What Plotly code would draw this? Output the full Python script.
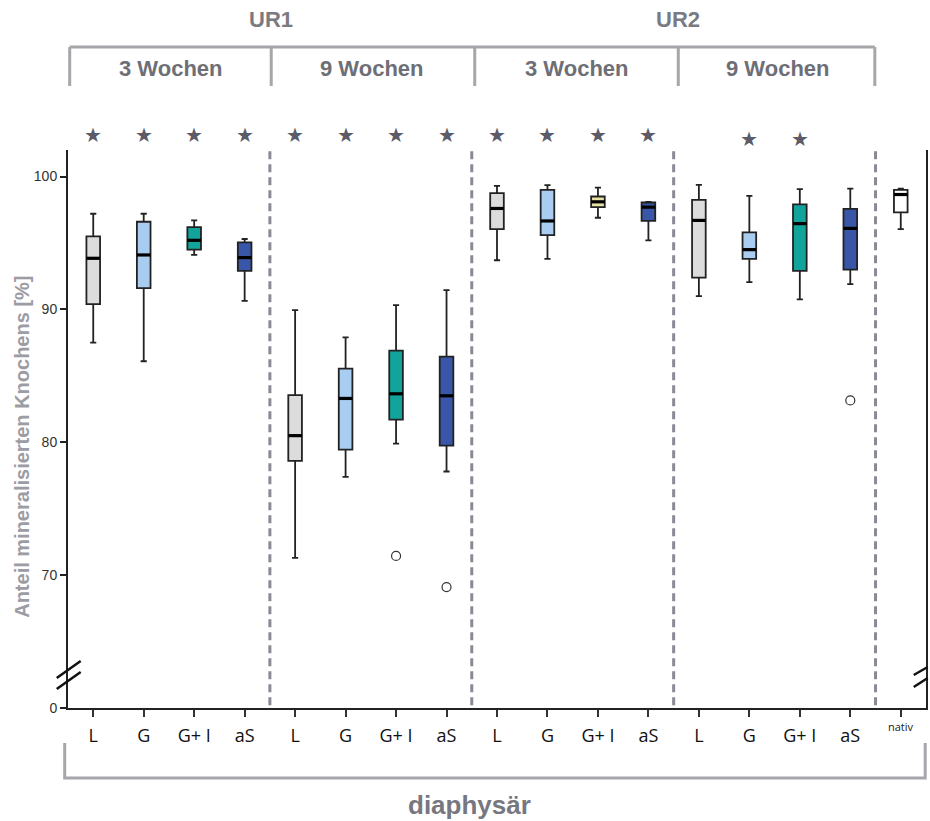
import plotly.graph_objects as go

# ---------------- data ----------------
tick_labels = ["L", "G", "G+ I", "aS", "L", "G", "G+ I", "aS",
               "L", "G", "G+ I", "aS", "L", "G", "G+ I", "aS", ""]
nativ_label = "nativ"

upper_whisker = [97.2, 97.2, 96.7, 95.3, 89.95, 87.9, 90.33, 91.45,
                 99.3, 99.35, 99.17, 98.1, 99.37, 98.55, 99.05, 99.1, 99.1]
q3_values = [95.5, 96.6, 96.2, 95.05, 83.55, 85.55, 86.9, 86.45,
             98.75, 99.0, 98.5, 98.05, 98.25, 95.8, 97.9, 97.57, 99.0]
median_values = [93.85, 94.1, 95.2, 93.9, 80.5, 83.3, 83.65, 83.5,
                 97.6, 96.66, 98.1, 97.7, 96.7, 94.5, 96.46, 96.1, 98.65]
q1_values = [90.4, 91.6, 94.5, 92.9, 78.6, 79.45, 81.7, 79.75,
             96.05, 95.6, 97.7, 96.66, 92.4, 93.8, 92.9, 93.0, 97.3]
lower_whisker = [87.5, 86.1, 94.1, 90.65, 71.3, 77.4, 79.9, 77.8,
                 93.7, 93.8, 96.9, 95.2, 91.0, 92.06, 90.76, 91.9, 96.05]
box_colors = ["#dcdcdc", "#a8cdf0", "#12a39b", "#3a56a8",
              "#dcdcdc", "#a8cdf0", "#12a39b", "#3a56a8",
              "#dcdcdc", "#a8cdf0", "#e6e2a6", "#3a56a8",
              "#dcdcdc", "#a8cdf0", "#12a39b", "#3a56a8", "#ffffff"]

outlier_x = [6, 7, 15]
outlier_y = [71.45, 69.1, 83.15]

star_x = [0, 1, 2, 3, 4, 5, 6, 7, 8, 9, 10, 11, 13, 14]
star_y = [103.15] * 12 + [102.85, 102.85]

separators = [3.5, 7.5, 11.5, 15.5]
y_tickvals = [60, 70, 80, 90, 100]
y_ticktext = ["0", "70", "80", "90", "100"]

period_labels = ["3 Wochen", "9 Wochen", "3 Wochen", "9 Wochen"]
group_labels = ["UR1", "UR2"]

Y_MIN, Y_MAX = 60, 102.0

# ---------------- figure ----------------
fig = go.Figure()
BOXW = 0.27
for i in range(len(median_values)):
    fig.add_trace(go.Box(
        x=[i], q1=[q1_values[i]], median=[median_values[i]], q3=[q3_values[i]],
        lowerfence=[lower_whisker[i]], upperfence=[upper_whisker[i]],
        width=BOXW, whiskerwidth=0.45, fillcolor=box_colors[i],
        line=dict(color="#222222", width=1.8), boxpoints=False,
        showlegend=False, hoverinfo="skip"))

# thick median lines
shapes = []
for i, m in enumerate(median_values):
    shapes.append(dict(type="line", xref="x", yref="y",
                       x0=i - BOXW / 2, x1=i + BOXW / 2, y0=m, y1=m,
                       line=dict(color="#000000", width=3.2)))

fig.add_trace(go.Scatter(x=outlier_x, y=outlier_y, mode="markers",
                         marker=dict(symbol="circle-open", size=9, color="#333333",
                                     line=dict(width=1.2)),
                         showlegend=False, hoverinfo="skip"))

# dashed separators
for s in separators:
    shapes.append(dict(type="line", xref="x", yref="paper", x0=s, x1=s,
                       y0=0.005, y1=1.003,
                       line=dict(color="#8a8a96", width=3, dash="8px,5px")))

# page-pixel helpers (plot area in page pixels)
L_PX, R_PX, T_PX, B_PX = 68.3, 928.3, 150, 708


def px(xp):
    return (xp - L_PX) / (R_PX - L_PX)


def py(yp):
    return (B_PX - yp) / (B_PX - T_PX)


def py_val(v):
    return (v - Y_MIN) / (Y_MAX - Y_MIN)


bracket_col = "#a6a6ab"
# top bracket
shapes.append(dict(type="line", xref="paper", yref="paper",
                   x0=px(70), x1=px(877), y0=py(47), y1=py(47),
                   line=dict(color=bracket_col, width=3)))
for xv in [70, 272, 476, 680, 877]:
    shapes.append(dict(type="line", xref="paper", yref="paper",
                       x0=px(xv), x1=px(xv), y0=py(47), y1=py(86),
                       line=dict(color=bracket_col, width=3)))
# bottom bracket
shapes.append(dict(type="path", xref="paper", yref="paper",
                   path=f"M {px(65)} {py(743)} L {px(65)} {py(778)} L {px(927.5)} {py(778)} L {px(927.5)} {py(743)}",
                   line=dict(color=bracket_col, width=3)))

# axis break marks
for (x0, y0, x1, y1) in [(57, 678, 81, 661), (57, 689, 81, 672),
                         (916, 675, 930, 667), (916, 687, 930, 678)]:
    shapes.append(dict(type="line", xref="paper", yref="paper",
                       x0=px(x0), x1=px(x1), y0=py(y0), y1=py(y1),
                       line=dict(color="#111111", width=2.5)))

annotations = []
for sx, sy in zip(star_x, star_y):
    annotations.append(dict(text="★", xref="x", yref="paper", x=sx, y=py_val(sy),
                            xanchor="center", yanchor="middle", showarrow=False,
                            font=dict(family="DejaVu Sans", size=20, color="#5c5c68")))
for lab, xv in zip(group_labels, [272, 680]):
    annotations.append(dict(text=f"<b>{lab}</b>", xref="paper", yref="paper",
                            x=px(xv), y=py(20), showarrow=False,
                            xanchor="center", yanchor="middle",
                            font=dict(family="Liberation Sans, Arial", size=22, color="#7a7a82")))
for lab, xv in zip(period_labels, [172, 373, 578, 780]):
    annotations.append(dict(text=f"<b>{lab}</b>", xref="paper", yref="paper",
                            x=px(xv), y=py(69), showarrow=False,
                            xanchor="center", yanchor="middle",
                            font=dict(family="Liberation Sans, Arial", size=22, color="#6e6e76")))
annotations.append(dict(text="<b>diaphysär</b>", xref="paper", yref="paper",
                        x=px(471), y=py(805), showarrow=False,
                        xanchor="center", yanchor="middle",
                        font=dict(family="Liberation Sans, Arial", size=26, color="#77777f")))
annotations.append(dict(text="<b>Anteil mineralisierten Knochens [%]</b>", xref="paper", yref="paper",
                        x=px(22), y=py(447), showarrow=False, textangle=-90,
                        xanchor="center", yanchor="middle",
                        font=dict(family="Liberation Sans, Arial", size=20, color="#9c9ca4")))
annotations.append(dict(text=nativ_label, xref="x", yref="paper", x=16, y=py(726),
                        showarrow=False, xanchor="center", yanchor="middle",
                        font=dict(family="Open Sans, Liberation Sans", size=11, color="#222222")))

fig.update_layout(
    width=930, height=821,
    margin=dict(l=68, r=2, t=150, b=113),
    paper_bgcolor="white", plot_bgcolor="white",
    shapes=shapes, annotations=annotations,
    showlegend=False,
    xaxis=dict(range=[-0.5, 16.5], tickmode="array",
               tickvals=list(range(17)), ticktext=tick_labels,
               showline=True, linecolor="#222222", linewidth=2,
               ticks="outside", ticklen=7, tickwidth=2, tickcolor="#333333",
               ticklabelstandoff=3,
               tickfont=dict(family="Open Sans, Liberation Sans", size=18, color="#111111"),
               showgrid=False, zeroline=False, fixedrange=True),
    yaxis=dict(range=[Y_MIN, Y_MAX], tickmode="array",
               tickvals=y_tickvals, ticktext=y_ticktext,
               showline=True, mirror=True, linecolor="#222222", linewidth=2,
               ticks="outside", ticklen=6, tickwidth=2, tickcolor="#222222",
               tickfont=dict(family="Liberation Sans, Arial", size=14, color="#333333"),
               showgrid=False, zeroline=False, fixedrange=True),
)

fig.write_html("out.html", config={"displayModeBar": False},
               post_script="document.body.style.margin='0';document.body.style.overflow='hidden';")
